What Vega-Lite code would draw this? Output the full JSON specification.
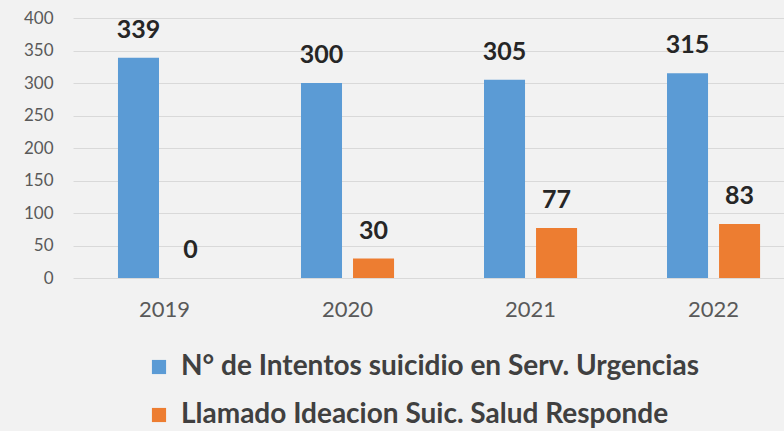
{
  "$schema": "https://vega.github.io/schema/vega-lite/v6.json",
  "autosize": {"type": "none"},
  "padding": {"left": 73, "top": 18, "right": 0, "bottom": 153},
  "width": 711,
  "height": 260,
  "background": "#f2f2f2",
  "config": {
    "view": {"stroke": null},
    "font": "Lato"
  },
  "data": {
    "values": [
      {"year": "2019", "serie": "N° de Intentos suicidio en Serv. Urgencias", "value": 339},
      {"year": "2019", "serie": "Llamado Ideacion Suic. Salud Responde", "value": 0},
      {"year": "2020", "serie": "N° de Intentos suicidio en Serv. Urgencias", "value": 300},
      {"year": "2020", "serie": "Llamado Ideacion Suic. Salud Responde", "value": 30},
      {"year": "2021", "serie": "N° de Intentos suicidio en Serv. Urgencias", "value": 305},
      {"year": "2021", "serie": "Llamado Ideacion Suic. Salud Responde", "value": 77},
      {"year": "2022", "serie": "N° de Intentos suicidio en Serv. Urgencias", "value": 315},
      {"year": "2022", "serie": "Llamado Ideacion Suic. Salud Responde", "value": 83}
    ]
  },
  "encoding": {
    "x": {
      "field": "year", "type": "nominal",
      "scale": {"paddingInner": 0.23, "paddingOuter": 0.0575, "align": 1},
      "axis": {"title": null, "labelAngle": 0, "domain": false, "ticks": false, "labelFontSize": 22, "labelColor": "#595959", "labelPadding": 21, "labelFont": "Lato"}
    },
    "xOffset": {
      "field": "serie", "type": "nominal",
      "sort": ["N° de Intentos suicidio en Serv. Urgencias", "Llamado Ideacion Suic. Salud Responde"],
      "scale": {"paddingInner": 0.2115, "paddingOuter": 0.46}
    },
    "y": {
      "field": "value", "type": "quantitative",
      "scale": {"domain": [0, 400], "nice": false},
      "axis": {"title": null, "values": [0, 50, 100, 150, 200, 250, 300, 350, 400], "domain": false, "ticks": false, "labelPadding": 20, "labelFontSize": 17, "labelColor": "#595959", "gridColor": "#d9d9d9", "gridWidth": 1.2}
    }
  },
  "layer": [
    {
      "mark": {"type": "bar"},
      "encoding": {
        "color": {
          "field": "serie", "type": "nominal",
          "scale": {"domain": ["N° de Intentos suicidio en Serv. Urgencias", "Llamado Ideacion Suic. Salud Responde"], "range": ["#5b9bd5", "#ed7d31"]},
          "legend": {
            "title": null, "orient": "none", "direction": "vertical",
            "legendX": 72, "legendY": 335, "padding": 0,
            "symbolType": "square", "symbolSize": 200, "symbolStrokeWidth": 0, "symbolOpacity": 1,
            "labelFontSize": 28, "labelFontWeight": "bold", "labelColor": "#404040", "labelFont": "Lato",
            "labelOffset": 8, "rowPadding": 20, "labelLimit": 700
          }
        }
      }
    },
    {
      "mark": {"type": "text", "baseline": "middle", "dy": -28, "fontSize": 25, "fontWeight": "bold", "color": "#262626", "font": "Lato"},
      "encoding": {"text": {"field": "value", "type": "quantitative"}}
    }
  ]
}
